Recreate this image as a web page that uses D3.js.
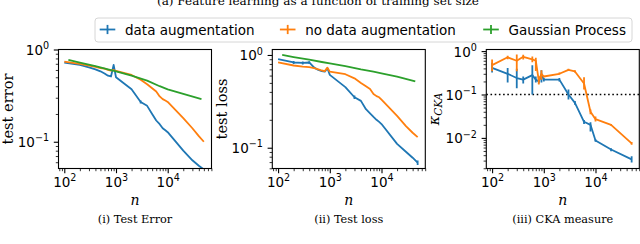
<!DOCTYPE html>
<html>
<head>
<meta charset="utf-8">
<script src="https://cdn.jsdelivr.net/npm/d3@7"></script>
<style>
  body { margin: 0; background: #fff; }
  svg { display: block; }
</style>
</head>
<body>
<div id="chart"></div>
<script>
// training set sizes
const nAll = [100, 200, 300, 400, 500, 600, 700, 800, 900, 1000, 2000, 3000, 4000, 5000, 6000, 7000, 8000, 9000, 10000, 20000, 30000, 40000, 50000];
const nGP = [120, 200, 400, 700, 1000, 2000, 4000, 7000, 10000, 20000, 45000];
const nCKA = [100, 200, 300, 400, 600, 700, 800, 900, 1000, 2000, 3000, 4000, 6000, 8000, 10000, 20000, 50000];

// (i) test error
const errAug   = [0.72, 0.68, 0.64, 0.61, 0.58, 0.55, 0.52, 0.51, 0.68, 0.50, 0.37, 0.27, 0.245, 0.20, 0.17, 0.155, 0.14, 0.133, 0.127, 0.08, 0.063, 0.055, 0.05];
const errAugSd = [0, 0, 0, 0, 0, 0, 0, 0, 0, 0, 0, 0.01, 0, 0, 0, 0, 0, 0, 0, 0, 0, 0, 0];
const errNoAug = [0.74, 0.70, 0.67, 0.65, 0.63, 0.62, 0.60, 0.59, 0.60, 0.585, 0.53, 0.47, 0.42, 0.38, 0.35, 0.31, 0.29, 0.28, 0.27, 0.18, 0.14, 0.115, 0.10];
const errGP    = [0.77, 0.72, 0.66, 0.61, 0.58, 0.52, 0.46, 0.40, 0.37, 0.33, 0.29];

// (ii) test loss
const lossAug   = [0.90, 0.83, 0.82, 0.83, 0.73, 0.69, 0.67, 0.66, 0.72, 0.61, 0.45, 0.35, 0.32, 0.26, 0.235, 0.215, 0.20, 0.19, 0.18, 0.11, 0.09, 0.078, 0.069];
const lossAugSd = [0, 0.03, 0.03, 0.025, 0, 0, 0, 0, 0, 0, 0, 0.015, 0, 0, 0, 0, 0, 0, 0, 0, 0, 0, 0.004];
const lossNoAug = [0.83, 0.77, 0.75, 0.74, 0.72, 0.70, 0.68, 0.67, 0.73, 0.66, 0.62, 0.56, 0.50, 0.46, 0.43, 0.38, 0.36, 0.35, 0.33, 0.22, 0.17, 0.145, 0.13];
const lossGP    = [1.0, 0.95, 0.89, 0.84, 0.81, 0.76, 0.70, 0.66, 0.635, 0.585, 0.52];

// (iii) CKA measure, with error bar ends
const ckaAug     = [0.41, 0.30, 0.24, 0.22, 0.28, 0.22, 0.20, 0.29, 0.22, 0.22, 0.10, 0.064, 0.0235, 0.020, 0.0087, 0.0054, 0.0032];
const ckaAugLo   = [0.32, 0.19, 0.14, 0.18, 0.10, 0.19, 0.18, 0.19, 0.20, 0.20, 0.077, 0.058, 0.021, 0.014, 0.0082, 0.0049, 0.0027];
const ckaAugHi   = [0.54, 0.41, 0.39, 0.26, 0.47, 0.26, 0.23, 0.36, 0.24, 0.24, 0.13, 0.071, 0.026, 0.023, 0.0093, 0.0058, 0.0038];
const ckaNoAug   = [0.475, 0.72, 0.60, 0.74, 0.645, 0.60, 0.21, 0.30, 0.26, 0.30, 0.37, 0.34, 0.18, 0.04, 0.027, 0.020, 0.0075];
const ckaNoAugLo = [0.345, 0.65, 0.345, 0.64, 0.55, 0.35, 0.17, 0.22, 0.25, 0.29, 0.35, 0.32, 0.13, 0.035, 0.024, 0.019, 0.007];
const ckaNoAugHi = [0.64, 0.78, 0.84, 0.82, 0.75, 0.70, 0.26, 0.36, 0.27, 0.32, 0.39, 0.36, 0.25, 0.045, 0.031, 0.021, 0.008];
const ckaThreshold = 0.1;

// labels and ticks
const legendLabels = ["data augmentation", "no data augmentation", "Gaussian Process"];
const captions = ["(i) Test Error", "(ii) Test loss", "(iii) CKA measure"];
const yLabels = ["test error", "test loss", "κ"];
const figTitle = "(a) Feature learning as a function of training set size";
const xMajor = [1e2, 1e3, 1e4];
const yMajor = [[0.1, 1], [0.1, 1], [0.01, 0.1, 1]];

const blue = "#1f77b4", orange = "#ff7f0e", green = "#2ca02c";

const lefts = [58.5, 272.3, 486.3],
      pw = 153, plotTop = 49.5, ph = 119;
const xDomain = [Math.pow(10, 1.888), Math.pow(10, 4.847)];
const yDomains = [
  [Math.pow(10, -1.29), 1],
  [Math.pow(10, -1.224), Math.pow(10, 0.059)],
  [Math.pow(10, -2.705), Math.pow(10, 0.037)]
];

function withSd(n, v, sd) {
  return n.map((d, i) => ({ n: d, v: v[i], lo: sd ? v[i] - sd[i] : null, hi: sd ? v[i] + sd[i] : null }));
}
function withBars(n, v, lo, hi) {
  return n.map((d, i) => ({ n: d, v: v[i], lo: lo[i], hi: hi[i] }));
}

const panels = [
  { series: [
      { pts: withSd(nAll, errAug, errAugSd), color: blue },
      { pts: withSd(nAll, errNoAug), color: orange },
      { pts: withSd(nGP, errGP), color: green } ] },
  { series: [
      { pts: withSd(nAll, lossAug, lossAugSd), color: blue },
      { pts: withSd(nAll, lossNoAug), color: orange },
      { pts: withSd(nGP, lossGP), color: green } ] },
  { series: [
      { pts: withBars(nCKA, ckaAug, ckaAugLo, ckaAugHi), color: blue },
      { pts: withBars(nCKA, ckaNoAug, ckaNoAugLo, ckaNoAugHi), color: orange } ] }
];

const svg = d3.select("#chart").append("svg")
  .attr("width", 640)
  .attr("height", 244);

function minorTicks(domain) {
  const out = [];
  const k0 = Math.floor(Math.log10(domain[0])), k1 = Math.ceil(Math.log10(domain[1]));
  for (let k = k0; k <= k1; k++) {
    for (let m = 2; m <= 9; m++) {
      const v = m * Math.pow(10, k);
      if (v >= domain[0] && v <= domain[1]) out.push(v);
    }
  }
  return out;
}

function supLabel(sel) {
  sel.each(function(d) {
    const e = Math.round(Math.log10(d));
    const t = d3.select(this).text(null);
    t.append("tspan").text("10");
    t.append("tspan").attr("dy", -5.8).attr("font-size", "9.6px").text(e < 0 ? "\u2212" + (-e) : e);
  });
}

panels.forEach(function(p, i) {
  const g = svg.append("g").attr("transform", `translate(${lefts[i]},${plotTop})`);
  const x = d3.scaleLog().domain(xDomain).range([0, pw]);
  const y = d3.scaleLog().domain(yDomains[i]).range([ph, 0]);

  g.append("clipPath").attr("id", "clip" + i)
    .append("rect").attr("width", pw).attr("height", ph);

  const plot = g.append("g").attr("clip-path", `url(#clip${i})`);

  if (i === 2) {
    plot.append("line")
      .attr("x1", 0).attr("x2", pw)
      .attr("y1", y(ckaThreshold)).attr("y2", y(ckaThreshold))
      .attr("stroke", "#000")
      .attr("stroke-width", 1.6)
      .attr("stroke-dasharray", "1.6,2.6");
  }

  p.series.forEach(function(s) {
    plot.append("path")
      .datum(s.pts)
      .attr("fill", "none")
      .attr("stroke", s.color)
      .attr("stroke-width", 1.8)
      .attr("stroke-linejoin", "round")
      .attr("d", d3.line().x(d => x(d.n)).y(d => y(d.v)));

    plot.selectAll(null)
      .data(s.pts.filter(d => d.lo !== null && d.hi > d.lo))
      .enter().append("line")
      .attr("x1", d => x(d.n)).attr("x2", d => x(d.n))
      .attr("y1", d => y(d.lo)).attr("y2", d => y(d.hi))
      .attr("stroke", s.color)
      .attr("stroke-width", 1.8);
  });

  // minor ticks
  g.append("g")
    .attr("transform", `translate(0,${ph})`)
    .call(d3.axisBottom(x).tickValues(minorTicks(xDomain)).tickSize(2.7).tickFormat(""))
    .call(a => a.select(".domain").remove())
    .selectAll("line").attr("stroke-width", 0.8);
  g.append("g")
    .call(d3.axisLeft(y).tickValues(minorTicks(yDomains[i])).tickSize(2.7).tickFormat(""))
    .call(a => a.select(".domain").remove())
    .selectAll("line").attr("stroke-width", 0.8);

  // major ticks
  const xa = g.append("g")
    .attr("transform", `translate(0,${ph})`)
    .call(d3.axisBottom(x).tickValues(xMajor).tickSize(4.7))
    .call(a => a.select(".domain").remove())
    .attr("font-family", "DejaVu Sans")
    .attr("font-size", 13.5);
  xa.selectAll("line").attr("stroke-width", 1.1);
  xa.selectAll("text").attr("y", 18).attr("dy", null).attr("fill", "#000").call(supLabel);

  const ya = g.append("g")
    .call(d3.axisLeft(y).tickValues(yMajor[i]).tickSize(4.7))
    .call(a => a.select(".domain").remove())
    .attr("font-family", "DejaVu Sans")
    .attr("font-size", 13.5);
  ya.selectAll("line").attr("stroke-width", 1.1);
  ya.selectAll("text").attr("x", -9.4).attr("y", 5).attr("dy", null).attr("fill", "#000").call(supLabel);

  // frame
  g.append("rect")
    .attr("width", pw).attr("height", ph)
    .attr("fill", "none")
    .attr("stroke", "#000")
    .attr("stroke-width", 1.1);

  // x label
  g.append("text")
    .attr("x", pw / 2).attr("y", 204.5 - plotTop)
    .attr("text-anchor", "middle")
    .attr("font-family", "DejaVu Serif")
    .attr("font-style", "italic")
    .attr("font-size", 14)
    .text("n");

  // caption
  g.append("text")
    .attr("x", pw / 2).attr("y", 222.5 - plotTop)
    .attr("text-anchor", "middle")
    .attr("font-family", "DejaVu Serif")
    .attr("font-size", 11.3)
    .text(captions[i]);

  // y label
  const yl = g.append("text")
    .attr("transform", `translate(${i === 2 ? -47.5 : -45.3},${ph / 2}) rotate(-90)`)
    .attr("text-anchor", "middle")
    .attr("font-family", "DejaVu Serif")
    .attr("font-size", 14.6);
  if (i === 2) {
    yl.append("tspan").attr("font-style", "italic").text(yLabels[i]);
    yl.append("tspan").attr("font-style", "italic").attr("font-size", 10.5).attr("dy", 3.5).text("CKA");
  } else {
    yl.text(yLabels[i]);
  }
});

// figure title (cut off at the top, as in the source figure)
svg.append("text")
  .attr("x", 318).attr("y", 4.5)
  .attr("text-anchor", "middle")
  .attr("font-family", "DejaVu Serif")
  .attr("font-size", 11.3)
  .attr("textLength", 322)
  .attr("lengthAdjust", "spacingAndGlyphs")
  .text(figTitle);

// legend
const legend = svg.append("g");
legend.append("rect")
  .attr("x", 95).attr("y", 18)
  .attr("width", 537).attr("height", 24)
  .attr("rx", 3)
  .attr("fill", "#fff")
  .attr("fill-opacity", 0.8)
  .attr("stroke", "#d6d6d6")
  .attr("stroke-width", 1);

const legendX = [107.5, 287.7, 491];
[blue, orange, green].forEach(function(c, i) {
  const cx = legendX[i], cy = 29.5;
  legend.append("line")
    .attr("x1", cx - 7.8).attr("x2", cx + 7.8)
    .attr("y1", cy).attr("y2", cy)
    .attr("stroke", c).attr("stroke-width", 1.8);
  legend.append("line")
    .attr("x1", cx).attr("x2", cx)
    .attr("y1", cy - 4.6).attr("y2", cy + 4.6)
    .attr("stroke", c).attr("stroke-width", 1.8);
  legend.append("text")
    .attr("x", cx + 17.5).attr("y", 34.5)
    .attr("font-family", "DejaVu Sans")
    .attr("font-size", 13.5)
    .text(legendLabels[i]);
});
</script>
</body>
</html>
